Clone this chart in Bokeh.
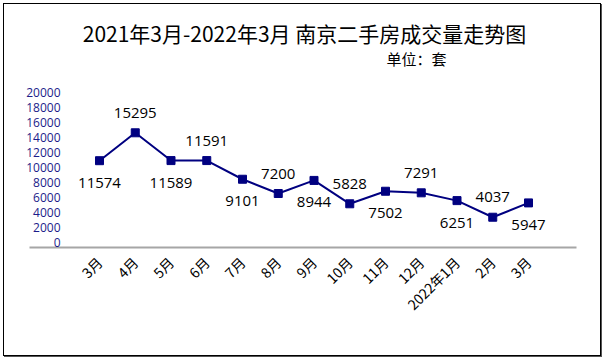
import math
from bokeh.plotting import figure
from bokeh.models import LinearAxis, FixedTicker, Range1d, ColumnDataSource
from bokeh.core.properties import value
from bokeh.embed import file_html
from bokeh.resources import INLINE

# ---- data ----
months = ["3月", "4月", "5月", "6月", "7月", "8月", "9月", "10月", "11月", "12月",
          "2022年1月", "2月", "3月"]
volumes = [11574, 15295, 11589, 11591, 9101, 7200, 8944, 5828, 7502, 7291, 6251, 4037, 5947]
y_ticks = [0, 2000, 4000, 6000, 8000, 10000, 12000, 14000, 16000, 18000, 20000]
title_text = "2021年3月-2022年3月 南京二手房成交量走势图"
unit_text = "单位：套"

# ---- layout helpers (pixel -> data, in page coordinates) ----
X0, DX = 99.0, 35.75          # page x of first category, spacing
Y0, DY = 247.0, 0.0075        # page y of value 0, px per unit


def px_x(px):
    return (px - X0) / DX


def px_y(py):
    return (Y0 - py) / DY


CJK = "Noto Sans CJK SC"
NUM = "Open Sans"

# canvas starts at page (4, 4): 3px margin + 1px border
p = figure(width=598, height=353,
           x_range=Range1d(px_x(20), px_x(580)),
           y_range=Range1d(px_y(250), px_y(12)),
           output_backend="svg", toolbar_location=None,
           x_axis_location=None, y_axis_location=None,
           min_border_left=16, min_border_right=22,
           min_border_top=8, min_border_bottom=107)
p.grid.visible = False
p.outline_line_color = None
p.background_fill_color = "white"
p.border_fill_color = "white"
p.styles = {"margin-left": "3px", "margin-top": "3px",
            "border": "1px solid #000000",
            "box-shadow": "1px 1px 0px #555555"}

xaxis = LinearAxis(ticker=FixedTicker(ticks=list(range(len(months)))),
                   major_label_overrides={i: m for i, m in enumerate(months)},
                   major_label_orientation=math.pi / 4,
                   major_tick_line_color=None, minor_tick_line_color=None,
                   axis_line_color=None,
                   major_label_text_font=CJK, major_label_text_font_size="14px",
                   major_label_text_color="#000000",
                   major_label_standoff=3)
p.add_layout(xaxis, "below")

# category axis base line (value 0)
p.segment(x0=[px_x(29)], y0=[0], x1=[px_x(576)], y1=[0],
          line_color="#a6a6a6", line_width=2)

idx = list(range(len(months)))
src = ColumnDataSource(dict(
    x=idx, y=volumes, lab=[str(v) for v in volumes],
    yoff=[22 if i % 2 == 0 else -20 for i in idx],
))

p.line("x", "y", source=src, line_color="#000080", line_width=2)
p.scatter("x", "y", source=src, marker="square", size=8,
          fill_color="#000080", line_color="#000080")
p.text("x", "y", text="lab", source=src, y_offset="yoff",
       text_font=value(NUM), text_font_size="15px", text_color="#000000",
       text_align="center", text_baseline="middle")

# y tick labels
tsrc = ColumnDataSource(dict(x=[px_x(60)] * len(y_ticks), y=y_ticks,
                             lab=[str(t) for t in y_ticks]))
p.text("x", "y", text="lab", source=tsrc, y_offset=-5,
       text_font=value(NUM), text_font_size="12px", text_color="#1c1c8a",
       text_align="right", text_baseline="middle")

# title and unit
p.text(x=[px_x(304)], y=[px_y(32)], text=[title_text],
       text_font=value(CJK), text_font_size="21px", text_color="#000000",
       text_align="center", text_baseline="middle")
p.text(x=[px_x(386)], y=[px_y(58)], text=[unit_text],
       text_font=value(CJK), text_font_size="15px", text_color="#000000",
       text_align="left", text_baseline="middle")

open("out.html", "w").write(file_html(p, INLINE))
